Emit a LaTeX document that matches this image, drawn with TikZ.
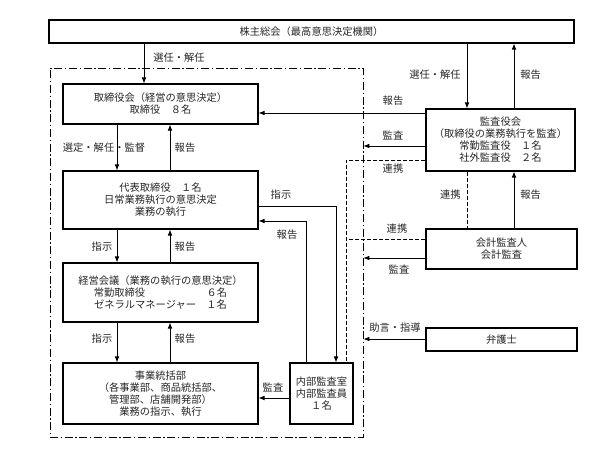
\documentclass[tikz,border=0pt]{standalone}
\usepackage{fontspec}
\setmainfont{Noto Sans CJK JP}
\usetikzlibrary{arrows.meta}

\begin{document}
\begin{tikzpicture}[x=0.75pt,y=0.75pt,yscale=-1,xscale=1,
    font=\fontsize{7.7}{9}\selectfont,
    box/.style={draw,line width=0.8pt,align=center,inner sep=0pt,text=black!85},
    lbl/.style={inner sep=0.75pt,text=black!85},
    arr/.style={line width=0.6pt,-{Latex[length=4.5pt,width=3.5pt]}},
    lnk/.style={line width=0.6pt,dash pattern=on 3pt off 1.5pt}]
    \useasboundingbox (0,0) rectangle (600,457);
    % frame round the board and the executive side
    \node [draw,line width=0.6pt,dash pattern=on 6pt off 2pt on 1pt off 2pt,minimum width=234.75pt,minimum height=276.75pt] (frame) at (206.5,252.5) {};
    % boxes
    \node [box,minimum width=393.75pt,minimum height=17.25pt] (soukai) at (311.5,31.5) {株主総会（最高意思決定機関）};
    \node [box,minimum width=146.25pt,minimum height=30pt] (torishimari) at (160.5,104) {取締役会（経営の意思決定）\\取締役　８名};
    \node [box,minimum width=146.25pt,minimum height=43.5pt] (daihyo) at (160.5,200) {代表取締役　１名\\日常業務執行の意思決定\\業務の執行};
    \node [box,minimum width=146.25pt,minimum height=44.25pt] (keiei) at (160.5,292.5) {経営会議（業務の執行の意思決定）\\常勤取締役　　　　　　６名\\ゼネラルマネージャー　１名};
    \node [box,minimum width=146.25pt,minimum height=45.75pt] (jigyo) at (160.5,393.5) {事業統括部\\（各事業部、商品統括部、\\管理部、店舗開発部）\\業務の指示、執行};
    \node [box,minimum width=47.25pt,minimum height=45.75pt] (naibu) at (321.5,393.5) {内部監査室\\内部監査員\\１名};
    \node [box,minimum width=111.75pt,minimum height=46.5pt] (kansa) at (500.5,140) {監査役会\\（取締役の業務執行を監査）\\常勤監査役　１名\\社外監査役　２名};
    \node [box,minimum width=113.25pt,minimum height=30pt] (kaikei) at (501.5,249) {会計監査人\\会計監査};
    \node [box,minimum width=113.25pt,minimum height=17.25pt] (bengo) at (501.5,339.5) {弁護士};
    \coordinate (renkei) at (346,239);
    % connectors
    \draw [arr] (soukai.south -| 144,0) -- (torishimari.north -| 144,0);
    \draw [arr] (soukai.south -| 467,0) -- (kansa.north -| 467,0);
    \draw [arr] (kansa.north -| 514,0) -- (soukai.south -| 514,0);
    \draw [arr] (kansa.west |- 0,113) -- (torishimari.east |- 0,113);
    \draw [arr] (kansa.west |- 0,146) -- (frame.east |- 0,146);
    \draw [lnk] (kansa.west |- 0,160) -| (naibu.north -| 346,0);
    \draw [lnk] (kansa.south -| 467,0) -- (kaikei.north -| 467,0);
    \draw [arr] (kaikei.north -| 514,0) -- (kansa.south -| 514,0);
    \draw [lnk] (kaikei.west |- renkei) -- (renkei);
    \draw [arr] (kaikei.west |- 0,258) -- (frame.east |- 0,258);
    \draw [arr] (bengo.west |- 0,339) -- (frame.east |- 0,339);
    \draw [arr] (torishimari.south -| 117,0) -- (daihyo.north -| 117,0);
    \draw [arr] (daihyo.north -| 170,0) -- (torishimari.south -| 170,0);
    \draw [arr] (daihyo.south -| 117,0) -- (keiei.north -| 117,0);
    \draw [arr] (keiei.north -| 170,0) -- (daihyo.south -| 170,0);
    \draw [arr] (keiei.south -| 117,0) -- (jigyo.north -| 117,0);
    \draw [arr] (jigyo.north -| 170,0) -- (keiei.south -| 170,0);
    \draw [arr] (daihyo.east |- 0,206) -| (naibu.north -| 336,0);
    \draw [arr] (naibu.north -| 306,0) |- (daihyo.east |- 0,221);
    \draw [arr] (naibu.west |- 0,398) -- (jigyo.east |- 0,398);
    % labels
    \draw (152,58) node [anchor=west][lbl] (l1) {選任・解任};
    \draw (462,75) node [anchor=east][lbl] (l2) {選任・解任};
    \draw (519,75) node [anchor=west][lbl] (l3) {報告};
    \draw (393,101) node [lbl] (l4) {報告};
    \draw (393,135) node [lbl] (l5) {監査};
    \draw (393,169) node [lbl] (l6) {連携};
    \draw (462,195) node [anchor=east][lbl] (l7) {連携};
    \draw (519,195) node [anchor=west][lbl] (l8) {報告};
    \draw (397,229) node [lbl] (l9) {連携};
    \draw (399,269) node [lbl] (l10) {監査};
    \draw (395,328) node [lbl] (l11) {助言・指導};
    \draw (104,148) node [lbl] (l12) {選定・解任・監督};
    \draw (185,148) node [lbl] (l13) {報告};
    \draw (102,247) node [lbl] (l14) {指示};
    \draw (185,247) node [lbl] (l15) {報告};
    \draw (102,339) node [lbl] (l16) {指示};
    \draw (185,339) node [lbl] (l17) {報告};
    \draw (281,195) node [lbl] (l18) {指示};
    \draw (287,235) node [lbl] (l19) {報告};
    \draw (273,387) node [lbl] (l20) {監査};
\end{tikzpicture}
\end{document}
